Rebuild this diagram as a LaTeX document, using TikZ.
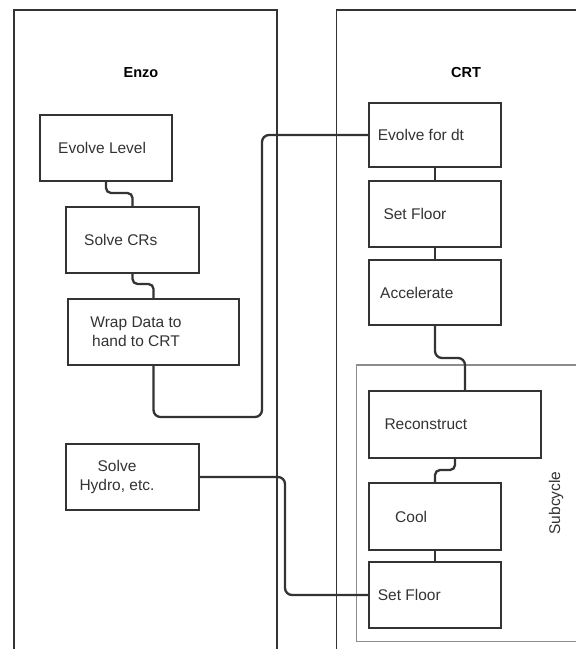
\documentclass[tikz,border=0pt]{standalone}
\usepackage{fontspec}
\setmainfont{Liberation Sans}
\usetikzlibrary{calc}
\definecolor{ink}{HTML}{333333}
\definecolor{frame}{HTML}{8C8C8C}
\begin{document}
\begin{tikzpicture}[x=1pt,y=-1pt,
  panel/.style={draw=ink,line width=1.8pt},
  subframe/.style={draw=frame,line width=1.5pt},
  stepbox/.style={draw=ink,line width=1.9pt,rectangle,inner sep=0pt},
  conn/.style={draw=ink,line width=2.3pt,rounded corners=7pt},
  lbl/.style={text=ink,inner sep=0pt,font=\fontsize{15.5}{19}\selectfont},
  ttl/.style={text=black,inner sep=0pt,font=\fontsize{14.5}{17}\selectfont\bfseries}]
\useasboundingbox (0,0) rectangle (576,649);
\fill[white] (0,0) rectangle (576,649);

% swimlanes
\draw[panel] (14,649) -- (14,10) -- (277,10) -- (277,649);
\draw[panel] (336.5,649) -- (336.5,10) -- (576,10);
\draw[subframe] (576,365) -- (356.7,365) -- (356.7,641.7) -- (576,641.7);

\node[ttl] (enzoT) at (141,73) {Enzo};
\node[ttl] (crtT) at (466,73) {CRT};
\node[lbl,rotate=90] (subT) at (556,503) {Subcycle};

% Enzo steps
\node[stepbox,minimum width=132pt,minimum height=66pt] (lvl) at (106,148) {};
\node[stepbox,minimum width=133pt,minimum height=66pt] (crs) at (132.5,240) {};
\node[stepbox,minimum width=171pt,minimum height=66pt] (wrap) at (153.5,332) {};
\node[stepbox,minimum width=133pt,minimum height=66pt] (hydro) at (132.5,477) {};

% CRT steps
\node[stepbox,minimum width=132pt,minimum height=64pt] (edt) at (435,135) {};
\node[stepbox,minimum width=132pt,minimum height=66pt] (sf1) at (435,214) {};
\node[stepbox,minimum width=132pt,minimum height=65pt] (acc) at (435,292.5) {};
\node[stepbox,minimum width=172pt,minimum height=66.5pt] (rec) at (455,424.5) {};
\node[stepbox,minimum width=132pt,minimum height=67pt] (cool) at (435,516.5) {};
\node[stepbox,minimum width=132pt,minimum height=66pt] (sf2) at (435,595) {};

% step labels
\node[lbl,anchor=west] (lvlT) at (58,148) {Evolve Level};
\node[lbl,anchor=west] (crsT) at (84,240) {Solve CRs};
\node[lbl,align=center] (wrapT) at (136,332) {Wrap Data to\\hand to CRT};
\node[lbl,align=center] (hydroT) at (117,477) {Solve\\Hydro, etc.};
\node[lbl,anchor=west] (edtT) at (377.7,135) {Evolve for dt};
\node[lbl,anchor=west] (sf1T) at (383.3,214) {Set Floor};
\node[lbl,anchor=west] (accT) at (380,293) {Accelerate};
\node[lbl,anchor=west] (recT) at (384.3,424) {Reconstruct};
\node[lbl,anchor=west] (coolT) at (395,516.5) {Cool};
\node[lbl,anchor=west] (sf2T) at (377.7,595) {Set Floor};

% connectors
\draw[conn,rounded corners=5pt] (lvl.south) -- (lvl.south |- 0,193) -- (crs.north |- 0,193) -- (crs.north);
\draw[conn,rounded corners=5pt] (crs.south) -- (crs.south |- 0,284) -- (wrap.north |- 0,284) -- (wrap.north);
\draw[conn] (wrap.south) -- (wrap.south |- 0,417) -- (262,417) -- (262,135) -- (edt.west);
\draw[conn] (hydro.east) -- (285,477) -- (285,595) -- (sf2.west);
\draw[conn] (edt.south) -- (sf1.north);
\draw[conn] (sf1.south) -- (acc.north);
\draw[conn] (acc.south) -- (acc.south |- 0,358) -- (465,358) -- (rec.north -| 465,0);
\draw[conn,rounded corners=5pt] (rec.south) -- (rec.south |- 0,470) -- (cool.north |- 0,470) -- (cool.north);
\draw[conn] (cool.south) -- (sf2.north);
\end{tikzpicture}
\end{document}
